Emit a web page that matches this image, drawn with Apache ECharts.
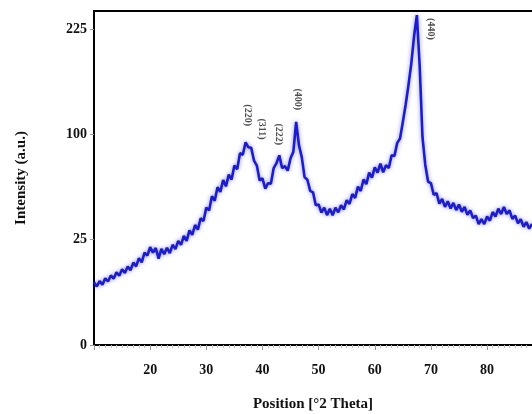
<!DOCTYPE html>
<html><head><meta charset="utf-8">
<script src="https://cdn.jsdelivr.net/npm/echarts@6/dist/echarts.min.js"></script>
<style>html,body{margin:0;padding:0;background:#fff}#c{width:532px;height:414px}</style>
</head><body><div id="c"></div>
<script>
// 2θ positions (deg), step 0.5 from 10 to 88
var thetaStart = 10, thetaStep = 0.5;
var intensity = [
8.9,7.7,9.2,8.2,10.0,9.1,10.9,9.9,11.9,10.8,
12.9,11.7,13.9,12.6,15.3,13.9,17.0,15.4,19.2,18.0,
21.6,19.2,21.2,16.8,20.8,18.6,21.3,19.0,22.6,20.7,
24.4,22.6,26.8,24.4,29.6,27.3,32.4,30.0,36.2,34.6,
42.5,40.8,49.8,46.9,56.1,52.8,61.3,56.7,65.4,61.6,
72.6,69.5,82.8,81.5,92.5,88.0,87.5,76.5,72.5,61.0,
62.5,55.0,59.0,58.5,70.5,74.5,81.0,70.5,72.0,68.5,
78.5,84.0,112,90,79.5,63.5,61.5,53.5,52.5,44.0,
44.5,39.5,42.5,38.0,41.8,37.9,42.4,39.6,44.0,41.4,
47.2,44.8,51.3,48.7,56.5,53.4,61.7,58.3,66.9,63.1,
71.0,67.0,74.0,67.2,72.8,70.5,81.0,80.5,92.0,96,
112,130,152,178,215,245,175,97,73,60,
59.0,50.8,52.0,45.0,48.0,43.0,46.5,42.0,45.5,41.0,
44.4,40.0,42.9,38.2,40.8,36.3,37.7,32.9,35.6,32.9,
37.2,34.8,39.8,37.2,41.9,38.6,42.9,38.6,40.8,35.8,
37.7,33.4,35.6,31.5,34.0,30.5,33.0
];
// peak annotations
var peakNames = ['(220)','(311)','(222)','(400)','(440)'];
var peakTheta = [37.3, 39.9, 42.8, 46.2, 69.9];
var peakLabelI = [119, 105, 100, 136, 225];
// y tick labels (sqrt scale): 0, 25, 100, 225
var yTickValues = [0, 25, 100, 225];

var lineData = intensity.map(function(v,i){ return [thetaStart + i*thetaStep, Math.sqrt(v)]; });
var peakData = peakNames.map(function(n,i){ return {value:[peakTheta[i], Math.sqrt(peakLabelI[i])], name:n}; });

var font = '"Liberation Serif","Times New Roman",serif';
var chart = echarts.init(document.getElementById('c'), null, {renderer:'canvas'});
chart.setOption({
  animation:false,
  backgroundColor:'#fff',
  grid:{left:94, right:0, top:11, bottom:69, containLabel:false, outerBoundsMode:'none'},
  xAxis:[{
    type:'value', min:10, max:88, interval:10,
    name:'Position [°2 Theta]', nameLocation:'middle', nameGap:52,
    nameTextStyle:{fontFamily:font, fontWeight:'bold', fontSize:15, color:'#111'},
    axisLine:{show:true, lineStyle:{color:'#000', width:2}},
    axisTick:{show:true, length:5, lineStyle:{color:'#999', width:1}},
    minorTick:{show:true, splitNumber:10, length:3, lineStyle:{color:'#bbb', width:1}},
    axisLabel:{showMinLabel:false, showMaxLabel:false, margin:18,
      fontFamily:font, fontWeight:'bold', fontSize:14, color:'#111'},
    splitLine:{show:false}
  },{
    type:'value', position:'top', min:10, max:88,
    axisLine:{show:true, onZero:false, lineStyle:{color:'#000', width:2}},
    axisTick:{show:false}, axisLabel:{show:false}, splitLine:{show:false}
  }],
  yAxis:{
    type:'value', min:0, max:15.85, interval:5,
    name:'Intensity (a.u.)', nameLocation:'middle', nameGap:65,
    nameTextStyle:{fontFamily:font, fontWeight:'bold', fontSize:15, color:'#111'},
    axisLine:{show:true, lineStyle:{color:'#000', width:2}},
    axisTick:{show:true, length:4, lineStyle:{color:'#999'}},
    axisLabel:{showMaxLabel:false, margin:7, fontFamily:font, fontWeight:'bold', fontSize:14, color:'#111',
      formatter:function(v){ var s=Math.round(v*v); return yTickValues.indexOf(s)>=0 ? String(s) : ''; }},
    splitLine:{show:false}
  },
  series:[{
    type:'line', data:lineData, showSymbol:false, symbol:'none',
    lineStyle:{color:'#1c1cc8', width:2.6, shadowColor:'rgba(50,50,240,0.55)', shadowBlur:4}, z:2
  },{
    type:'scatter', data:peakData, symbolSize:0, z:3,
    label:{show:true, position:'inside', rotate:-90, formatter:function(p){return p.name;},
      fontFamily:font, fontWeight:'bold', fontSize:10, color:'#222'}
  }]
});
</script></body></html>
